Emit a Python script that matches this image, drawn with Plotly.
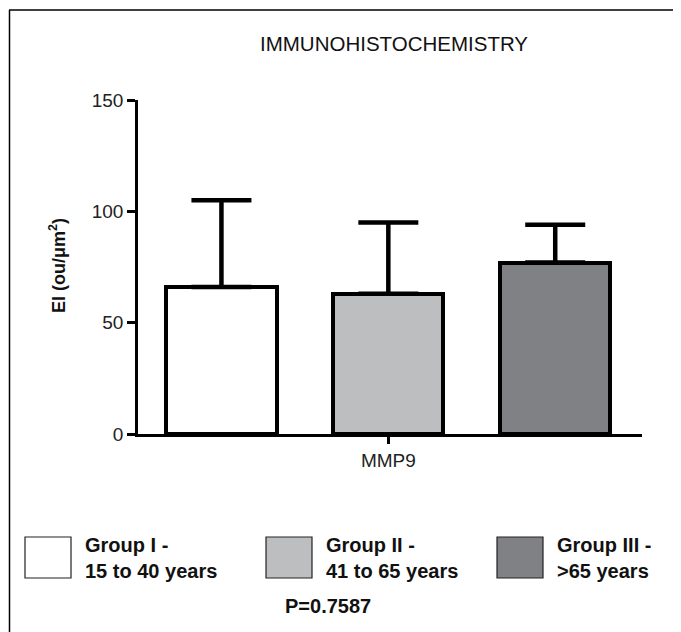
import plotly.graph_objects as go

# ---- data ----
groups = ["Group I", "Group II", "Group III"]
group_labels = ["Group I -<br>15 to 40 years", "Group II -<br>41 to 65 years", "Group III -<br>>65 years"]
means = [66, 63, 77]
sem_up = [39, 32, 17]
bar_colors = ["#ffffff", "#bdbec0", "#808184"]
category_label = "MMP9"
title_text = "IMMUNOHISTOCHEMISTRY"
y_title = "<b>EI (ou/μm<sup>2</sup>)</b>"
p_text = "<b>P=0.7587</b>"
y_ticks = [0, 50, 100, 150]

# page body has an 8px margin; figure is sized to fit the window
OFF = 8
W, H = 681 - OFF, 632 - OFF
L, R, T, B = 138, 642, 100, 434  # plot area in window px

def px(x):
    return (x - L) / (R - L)

def py(y):
    return (B - y) / (B - T)

FONT = "Liberation Sans, Arial, Helvetica, sans-serif"

fig = go.Figure()
fig.add_trace(go.Bar(
    x=[0, 1, 2], y=means, width=0.66,
    marker=dict(color=bar_colors, line=dict(color="black", width=4)),
    error_y=dict(type="data", array=sem_up, arrayminus=[0, 0, 0], symmetric=False,
                 color="black", thickness=4.5, width=30),
    showlegend=False,
))

shapes = []
annotations = []
# outer frame (top and left edges)
shapes.append(dict(type="line", xref="paper", yref="paper", x0=px(9), x1=px(700), y0=py(10), y1=py(10),
                   line=dict(color="black", width=1.5)))
shapes.append(dict(type="line", xref="paper", yref="paper", x0=px(9.5), x1=px(9.5), y0=py(10), y1=py(700),
                   line=dict(color="black", width=1.5)))

# legend boxes and labels
leg_x = [25, 266, 497]
leg_top, leg_bot = 537, 578
for i, lab in enumerate(group_labels):
    shapes.append(dict(type="rect", xref="paper", yref="paper",
                       x0=px(leg_x[i]), x1=px(leg_x[i] + 46), y0=py(leg_bot), y1=py(leg_top),
                       fillcolor=bar_colors[i], line=dict(color="#222", width=1.2)))
    annotations.append(dict(xref="paper", yref="paper", x=px(leg_x[i] + 58), y=py(558),
                            text="<b>" + lab.replace("<br>", "</b><br><b>") + "</b>",
                            showarrow=False, xanchor="left", yanchor="middle", align="left",
                            font=dict(family=FONT, size=20, color="#111")))

annotations.append(dict(xref="paper", yref="paper", x=px(394), y=py(43), text=title_text, showarrow=False,
                        xanchor="center", yanchor="middle", font=dict(family=FONT, size=20.5, color="#111")))
annotations.append(dict(xref="paper", yref="paper", x=px(57), y=py(266), text=y_title, showarrow=False,
                        textangle=-90, xanchor="center", yanchor="middle",
                        font=dict(family=FONT, size=18, color="#111")))
annotations.append(dict(xref="paper", yref="paper", x=px(328), y=py(606), text=p_text, showarrow=False,
                        xanchor="center", yanchor="middle", font=dict(family=FONT, size=20, color="#111")))

fig.update_layout(
    width=W, height=H,
    margin=dict(l=L - OFF, r=W - (R - OFF), t=T - OFF, b=H - (B - OFF), pad=0),
    paper_bgcolor="white", plot_bgcolor="white",
    shapes=shapes, annotations=annotations,
    bargap=0,
    xaxis=dict(range=[-0.5, 2.52], tickvals=[1], ticktext=[category_label], showline=True,
               linecolor="black", linewidth=2.5, ticks="outside", ticklen=7, tickwidth=2.5,
               tickcolor="black", showgrid=False, zeroline=False,
               tickfont=dict(family=FONT, size=19, color="#222")),
    yaxis=dict(range=[0, 150], tickvals=y_ticks, showline=True, linecolor="black", linewidth=2.5,
               ticks="outside", ticklen=8, tickwidth=2.5, tickcolor="black", showgrid=False,
               zeroline=False, tickfont=dict(family=FONT, size=19, color="#222")),
)

fig.write_html("out.html")
